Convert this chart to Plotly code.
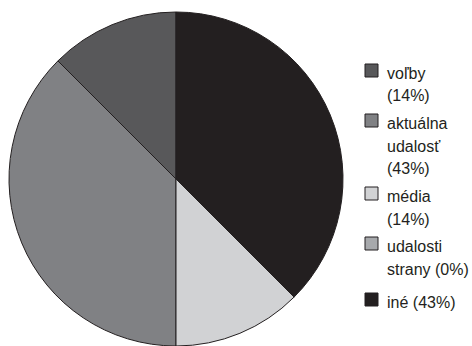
import plotly.graph_objects as go

W, H = 472, 346

# ---- data ----
labels = ["voľby", "aktuálna udalosť", "média", "udalosti strany", "iné"]
values = [1, 3, 1, 0, 3]
legend_lines = [
    ["voľby", "(14%)"],
    ["aktuálna", "udalosť", "(43%)"],
    ["média", "(14%)"],
    ["udalosti", "strany (0%)"],
    ["iné (43%)"],
]
colors = ["#58585a", "#808184", "#d1d2d4", "#a7a9ac", "#231f20"]

# ---- styles / layout ----
swatch_tops = [64, 114, 187, 237, 293]
line_h = 22.5
sw_x0, sw_size = 365, 13
text_x = 385
font_family = "Liberation Sans, Arial, sans-serif"
font_size = 16
text_color = "#231f20"

fig = go.Figure(
    go.Pie(
        labels=labels,
        values=values,
        sort=False,
        direction="counterclockwise",
        rotation=-45,
        textinfo="none",
        marker=dict(colors=colors, line=dict(color="#231f20", width=1)),
        domain=dict(x=[9 / W, 343 / W], y=[0, 1 - 12 / H]),
        showlegend=False,
    )
)

shapes = []
annotations = []
for top, lines, col in zip(swatch_tops, legend_lines, colors):
    shapes.append(dict(
        type="rect", xref="paper", yref="paper",
        x0=sw_x0 / W, x1=(sw_x0 + sw_size) / W,
        y0=1 - top / H, y1=1 - (top + sw_size) / H,
        fillcolor=col, line=dict(color="#231f20", width=1),
    ))
    for i, t in enumerate(lines):
        cy = top + 9.5 + i * line_h
        annotations.append(dict(
            text=t, xref="paper", yref="paper",
            x=text_x / W, y=1 - cy / H,
            xanchor="left", yanchor="middle", showarrow=False,
            font=dict(family=font_family, size=font_size, color=text_color),
        ))

fig.update_layout(
    width=W, height=H,
    margin=dict(l=0, r=0, t=0, b=0),
    paper_bgcolor="white", plot_bgcolor="white",
    shapes=shapes, annotations=annotations,
)

fig.write_html("out.html")
